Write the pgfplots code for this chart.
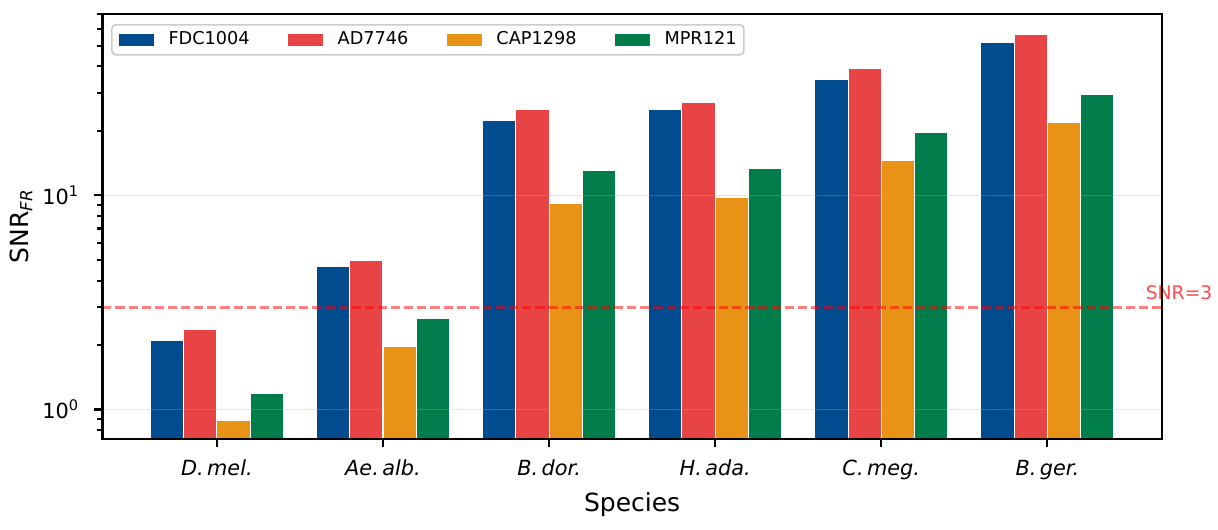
\documentclass[border=0pt]{standalone}
\usepackage{pgfplots}
\pgfplotsset{compat=1.18}
\usepackage{fontspec}
\setmainfont{DejaVu Sans}
\definecolor{cfdc}{HTML}{004C8F}
\definecolor{cad}{HTML}{E84445}
\definecolor{ccap}{HTML}{E89216}
\definecolor{cmpr}{HTML}{007D4B}
\begin{document}
\begin{tikzpicture}
\begin{axis}[
  width=508.7pt, height=204pt, scale only axis,
  ymode=log, log basis y=10, log origin=infty,
  xmin=-0.69, xmax=5.69, ymin=0.729, ymax=70.3,
  ybar, bar width=0.2,
  clip=false,
  axis on top,
  axis line style={line width=1.25pt},
  xtick={0,1,2,3,4,5},
  xticklabels={\textit{D.\,mel.},\textit{Ae.\,alb.},\textit{B.\,dor.},\textit{H.\,ada.},\textit{C.\,meg.},\textit{B.\,ger.}},
  ytick={1,10},
  yticklabels={10\textsuperscript{0},10\textsuperscript{1}},
  minor ytick={0.8,0.9,2,3,4,5,6,7,8,9,20,30,40,50,60,70},
  xtick pos=bottom, ytick pos=left,
  tick align=outside,
  major tick length=4pt, minor tick length=2.4pt,
  every tick/.style={black, line width=1pt},
  minor x tick num=0,
  ymajorgrids,
  major grid style={color=black!31, opacity=0.3, line width=0.8pt},
  xticklabel style={font=\fontsize{10}{12}\selectfont, yshift=-2.5pt},
  yticklabel style={font=\fontsize{10}{12}\selectfont, xshift=-3.5pt},
  xlabel={Species},
  ylabel={SNR\textsubscript{\textit{FR}}},
  xlabel style={font=\fontsize{12}{14}\selectfont, at={(axis description cs:0.5,-0.1718)}, anchor=base},
  ylabel style={font=\fontsize{12}{14}\selectfont, at={(axis description cs:-0.0764,0.5)}, anchor=center},
  legend columns=4,
  legend cell align=left,
  legend style={at={(0,1)}, anchor=north west, xshift=4.2pt, yshift=-4.8pt,
    draw=black!20, line width=0.8pt, rounded corners=2pt, fill=white, fill opacity=0.8, text opacity=1,
    font=\fontsize{8.5}{10}\selectfont,
    nodes={inner sep=0pt},
    inner xsep=3.5pt, inner ysep=3.3pt,
    /tikz/every odd column/.append style={column sep=7pt},
    /tikz/every even column/.append style={column sep=18.5pt}},
  legend image code/.code={\path[#1, draw=none, sharp corners, fill opacity=1] (0pt,-2.9pt) rectangle (16.7pt,2.9pt);},
]
\addplot[bar shift=-0.3, fill=cfdc, draw=white, line width=0.5pt] coordinates {(0,2.09) (1,4.67) (2,22.4) (3,25.2) (4,34.6) (5,51.9)};
\addplot[bar shift=-0.1, fill=cad, draw=white, line width=0.5pt] coordinates {(0,2.37) (1,4.97) (2,25.1) (3,27.0) (4,39.1) (5,56.5)};
\addplot[bar shift=0.1, fill=ccap, draw=white, line width=0.5pt] coordinates {(0,0.89) (1,1.98) (2,9.2) (3,9.8) (4,14.5) (5,21.8)};
\addplot[bar shift=0.3, fill=cmpr, draw=white, line width=0.5pt] coordinates {(0,1.19) (1,2.67) (2,13.1) (3,13.3) (4,19.6) (5,29.5)};
\legend{FDC1004, AD7746, CAP1298, MPR121}
\addplot[sharp plot, forget plot, red, opacity=0.5, line width=1.2pt, dash pattern=on 4.4pt off 1.9pt] coordinates {(-0.69,3) (5.69,3)};
\node[anchor=base west, inner sep=0pt, text=red, text opacity=0.7, font=\fontsize{9}{10}\selectfont, yshift=3.8pt] at (axis cs:5.59,3) {SNR=3};
\end{axis}
\pgfresetboundingbox
\path ([xshift=-49.1pt,yshift=-43.7pt]current axis.south west) rectangle ([xshift=26.9pt,yshift=6.7pt]current axis.north east);
\end{tikzpicture}
\end{document}
